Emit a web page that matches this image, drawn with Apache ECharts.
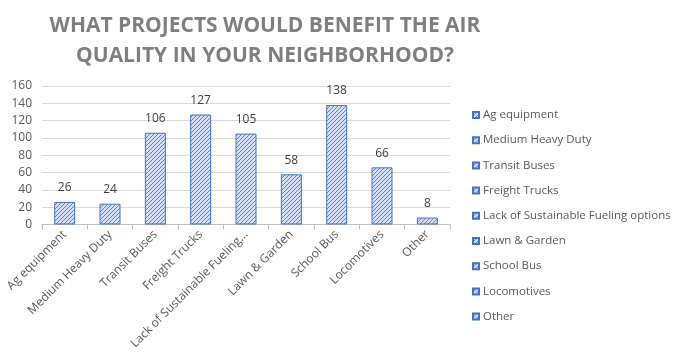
<!DOCTYPE html>
<html><head><meta charset="utf-8">
<script src="https://cdn.jsdelivr.net/npm/echarts@6/dist/echarts.min.js"></script>
<style>html,body{margin:0;padding:0;background:#fff}#c{width:682px;height:352px}</style>
</head><body><div id="c"></div>
<script>
const categories = ["Ag equipment","Medium Heavy Duty","Transit Buses","Freight Trucks","Lack of Sustainable Fueling options","Lawn & Garden","School Bus","Locomotives","Other"];
const values = [26,24,106,127,105,58,138,66,8];
const yTicks = [0,20,40,60,80,100,120,140,160];
const titleText = "WHAT PROJECTS WOULD BENEFIT THE AIR\nQUALITY IN YOUR NEIGHBORHOOD?";

function makePattern(){
  const c = document.createElement('canvas');
  c.width = 4; c.height = 4;
  const g = c.getContext('2d');
  g.fillStyle = '#d3dff6'; g.fillRect(0,0,4,4);
  g.fillStyle = '#5c84d2';
  for (let i=0;i<4;i++){ g.fillRect(3-i, i, 1, 1); }
  return c;
}
const pat = makePattern();
const fill = {image: pat, repeat: 'repeat'};

const chart = echarts.init(document.getElementById('c'));
const series = categories.map((name, idx) => ({
  name: name,
  type: 'bar',
  stack: 'all',
  barWidth: 21,
  data: categories.map((_, j) => j === idx ? values[j] : '-'),
  itemStyle: {color: fill, borderColor: '#4472c4', borderWidth: 1},
  label: {show: true, position: 'top', distance: 8, color: '#404040', fontSize: 12, fontFamily: 'Open Sans'},
  emphasis: {disabled: true},
  animation: false
}));

chart.setOption({
  animation: false,
  title: {
    text: titleText,
    left: 260, top: 6, textAlign: 'center',
    textStyle: {fontFamily: 'Open Sans', fontWeight: 'bold', fontSize: 21, color: '#7f7f7f', lineHeight: 30}
  },
  grid: {left: 42, right: 232, top: 86, bottom: 126, containLabel: false},
  legend: {
    orient: 'vertical', left: 467, top: 104,
    itemWidth: 6, itemHeight: 6, itemGap: 13.2,
    icon: 'rect',
    data: categories,
    textStyle: {color: '#595959', fontSize: 11.5, fontFamily: 'Open Sans', padding: [0,0,0,-1]},
    selectedMode: false
  },
  xAxis: {
    type: 'category', data: categories,
    axisLine: {lineStyle: {color: '#bfbfbf', width: 1}},
    axisTick: {show: true, length: 5, lineStyle: {color: '#bfbfbf'}},
    axisLabel: {rotate: 45, interval: 0, color: '#595959', fontSize: 12, fontFamily: 'Open Sans', margin: 8,
      formatter: v => v.length > 27 ? v.slice(0, 27) + '...' : v}
  },
  yAxis: {
    type: 'value', min: 0, max: 160, interval: 20,
    axisLine: {show: false}, axisTick: {show: false},
    splitLine: {lineStyle: {color: '#d9d9d9'}},
    axisLabel: {color: '#595959', fontSize: 12, fontFamily: 'Open Sans', margin: 10,
      formatter: v => yTicks.includes(v) ? String(v) : ''}
  },
  series: series
});
</script></body></html>
